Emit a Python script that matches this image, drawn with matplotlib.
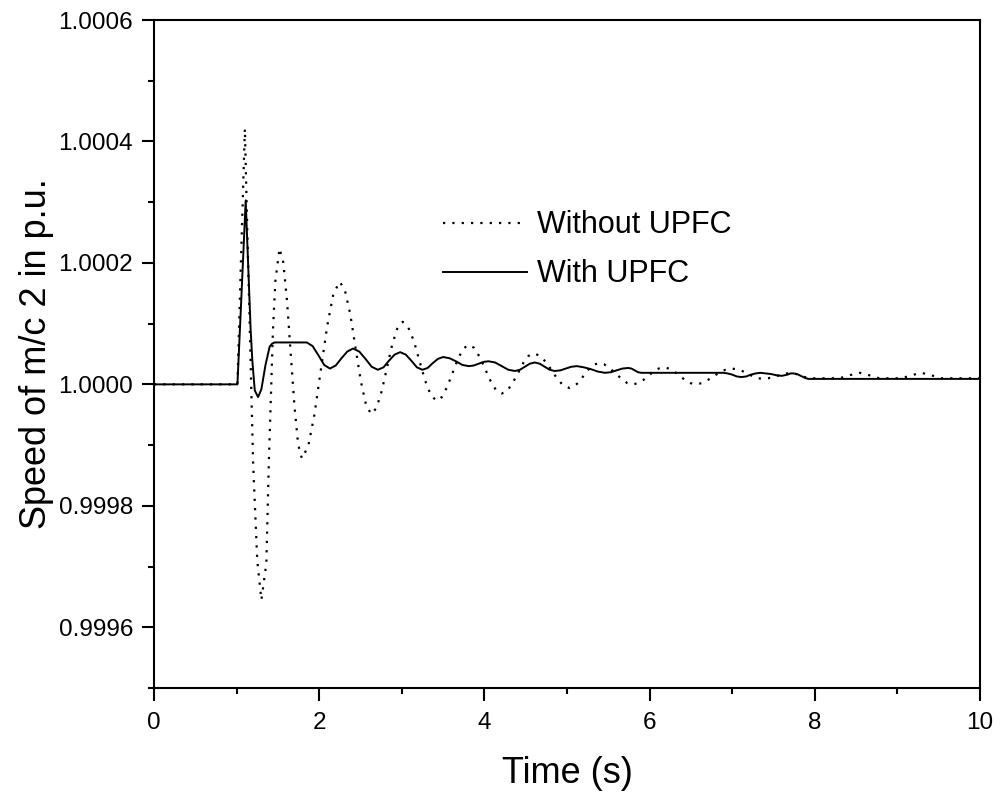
import matplotlib
matplotlib.use("Agg")
import matplotlib.pyplot as plt
from matplotlib.ticker import MultipleLocator

# Speed of machine 2 (p.u.)
t_without = [0.00, 1.00, 1.01, 1.05, 1.10, 1.13, 1.16, 1.20, 1.25, 1.30,
             1.36, 1.39, 1.44, 1.47, 1.52,
             1.565, 1.61, 1.655, 1.70, 1.745, 1.79,
             1.867, 1.943, 2.02, 2.097, 2.173, 2.25,
             2.313, 2.377, 2.44, 2.503, 2.567, 2.63,
             2.693, 2.757, 2.82, 2.883, 2.947, 3.01,
             3.078, 3.147, 3.215, 3.283, 3.352, 3.42,
             3.485, 3.55, 3.615, 3.68, 3.745, 3.81,
             3.877, 3.943, 4.01, 4.077, 4.143, 4.21,
             4.275, 4.34, 4.405, 4.47, 4.535, 4.60,
             4.672, 4.743, 4.815, 4.887, 4.958, 5.03,
             5.088, 5.147, 5.205, 5.263, 5.322, 5.38,
             5.45, 5.52, 5.59, 5.66, 5.73, 5.80,
             5.862, 5.923, 5.985, 6.047, 6.108, 6.17,
             6.235, 6.30, 6.365, 6.43, 6.495, 6.56,
             6.632, 6.703, 6.775, 6.847, 6.918, 6.99,
             7.055, 7.12, 7.185, 7.25, 7.315, 7.38,
             7.437, 7.493, 7.55, 7.607, 7.663, 7.72,
             7.80, 7.88, 7.95, 8.30, 8.42, 8.54, 8.66, 8.78,
             9.05, 9.17, 9.29, 9.41, 9.53, 10.00]
w_without = [1.000000, 1.000000, 1.000000, 1.000190, 1.000421, 1.000250, 1.000090, 0.999870, 0.999710, 0.999645,
             0.999705, 0.999870, 1.000089, 1.000171, 1.000224,
             1.000201, 1.000138, 1.000051, 0.999965, 0.999901, 0.999878,
             0.999898, 0.999951, 1.000024, 1.000096, 1.000150, 1.000169,
             1.000154, 1.000115, 1.000060, 1.000006, 0.999966, 0.999951,
             0.999961, 0.999989, 1.000027, 1.000065, 1.000093, 1.000103,
             1.000094, 1.000071, 1.000038, 1.000006, 0.999982, 0.999973,
             0.999979, 0.999996, 1.000019, 1.000042, 1.000059, 1.000065,
             1.000060, 1.000045, 1.000025, 1.000005, 0.999990, 0.999985,
             0.999989, 1.000002, 1.000018, 1.000035, 1.000047, 1.000051,
             1.000047, 1.000037, 1.000023, 1.000008, 0.999998, 0.999994,
             0.999997, 1.000004, 1.000015, 1.000025, 1.000032, 1.000035,
             1.000033, 1.000026, 1.000018, 1.000009, 1.000002, 1.000000,
             1.000002, 1.000007, 1.000014, 1.000021, 1.000026, 1.000028,
             1.000026, 1.000021, 1.000014, 1.000007, 1.000002, 1.000000,
             1.000002, 1.000007, 1.000013, 1.000020, 1.000024, 1.000026,
             1.000025, 1.000022, 1.000018, 1.000013, 1.000010, 1.000009,
             1.000010, 1.000012, 1.000014, 1.000017, 1.000018, 1.000019,
             1.000016, 1.000012, 1.000010, 1.000010, 1.000015, 1.000019, 1.000015, 1.000010,
             1.000010, 1.000015, 1.000019, 1.000015, 1.000010, 1.000010]

t_with = [0.00, 1.00, 1.01, 1.06, 1.11, 1.17, 1.19, 1.22, 1.26, 1.30, 1.35, 1.40, 1.43, 1.46,
          1.83, 1.85, 1.92, 1.99, 2.06, 2.13,
          2.20, 2.27, 2.34, 2.41,
          2.485, 2.56, 2.635, 2.71,
          2.778, 2.845, 2.913, 2.98,
          3.048, 3.115, 3.183, 3.25,
          3.313, 3.375, 3.438, 3.50,
          3.578, 3.655, 3.733, 3.81,
          3.87, 3.93, 3.99, 4.05,
          4.13, 4.21, 4.29, 4.37,
          4.43, 4.49, 4.55, 4.61,
          4.67, 4.73, 4.79, 4.85,
          4.918, 4.985, 5.053, 5.12,
          5.205, 5.29, 5.375, 5.46,
          5.53, 5.60, 5.67, 5.74,
          5.78, 5.82, 5.86, 5.90, 6.89,
          6.945, 7.00, 7.055, 7.11,
          7.17, 7.225, 7.285, 7.34,
          7.405, 7.47, 7.535, 7.60,
          7.635, 7.67, 7.705, 7.74,
          7.785, 7.83, 7.875, 7.92, 10.00]
w_with = [1.000000, 1.000000, 1.000000, 1.000150, 1.000303, 1.000090, 1.000040, 0.999990, 0.999979, 0.999992, 1.000032, 1.000062, 1.000067, 1.000069,
          1.000069, 1.000069, 1.000063, 1.000048, 1.000032, 1.000026,
          1.000031, 1.000043, 1.000054, 1.000059,
          1.000054, 1.000042, 1.000029, 1.000024,
          1.000028, 1.000039, 1.000049, 1.000053,
          1.000049, 1.000039, 1.000028, 1.000024,
          1.000027, 1.000035, 1.000042, 1.000045,
          1.000043, 1.000038, 1.000032, 1.000030,
          1.000031, 1.000034, 1.000037, 1.000038,
          1.000036, 1.000030, 1.000024, 1.000022,
          1.000024, 1.000029, 1.000034, 1.000036,
          1.000034, 1.000029, 1.000024, 1.000022,
          1.000023, 1.000026, 1.000029, 1.000030,
          1.000028, 1.000025, 1.000021, 1.000019,
          1.000020, 1.000023, 1.000026, 1.000027,
          1.000026, 1.000023, 1.000020, 1.000019, 1.000019,
          1.000018, 1.000016, 1.000013, 1.000012,
          1.000013, 1.000016, 1.000018, 1.000019,
          1.000018, 1.000017, 1.000015, 1.000014,
          1.000015, 1.000016, 1.000018, 1.000018,
          1.000017, 1.000014, 1.000011, 1.000009, 1.000009]

label_font = ["Liberation Sans", "DejaVu Sans"]

fig = plt.figure(figsize=(10, 7.97), dpi=100)
ax = fig.add_axes([0.154, 0.1368, 0.826, 0.8381])

ax.plot(t_without, w_without, color="black", lw=1.6, linestyle=(0, (1, 3.2)),
        label="Without UPFC")
ax.plot(t_with, w_with, color="black", lw=1.4, label="With UPFC")

ax.set_xlim(0, 10)
ax.set_ylim(0.9995, 1.0006)
ax.xaxis.set_major_locator(MultipleLocator(2))
ax.xaxis.set_minor_locator(MultipleLocator(1))
ax.yaxis.set_major_locator(MultipleLocator(0.0002))
ax.yaxis.set_minor_locator(MultipleLocator(0.0001))
ax.yaxis.set_major_formatter(plt.FormatStrFormatter("%.4f"))

for s in ax.spines.values():
    s.set_linewidth(1.5)
ax.tick_params(which="major", direction="out", length=9, width=1.5, pad=6)
ax.tick_params(which="minor", direction="out", length=4.5, width=1.5)
ax.tick_params(axis="x", which="major", pad=8)

for lab in ax.get_xticklabels() + ax.get_yticklabels():
    lab.set_family(label_font)
    lab.set_fontsize(17.5)

ax.set_xlabel("Time (s)", family=label_font, fontsize=26, labelpad=16)
ax.set_ylabel("Speed of m/c 2 in p.u.", family=label_font, fontsize=26, labelpad=3)

ax.legend(loc="upper left", bbox_to_anchor=(0.35, 0.715), frameon=False,
          borderpad=0, borderaxespad=0,
          prop={"family": label_font, "size": 22}, handlelength=2.75,
          handletextpad=0.33, labelspacing=0.62)

fig.savefig("out.png", dpi=100)
